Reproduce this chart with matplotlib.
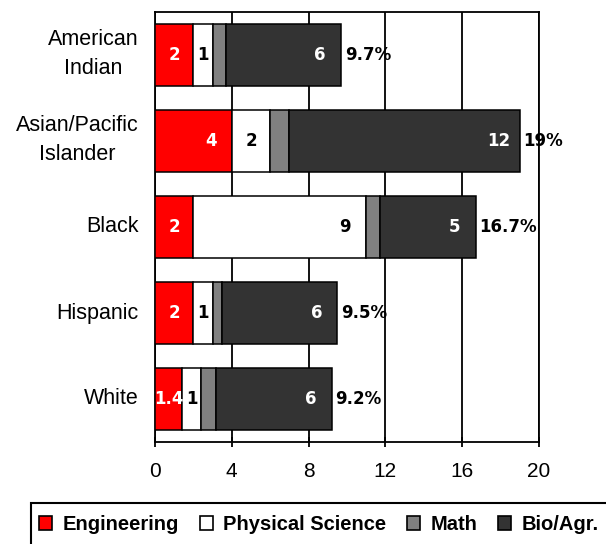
import matplotlib
matplotlib.use("Agg")
import matplotlib.pyplot as plt
from matplotlib.patches import Rectangle
from matplotlib.transforms import ScaledTranslation

groups = ["American\nIndian", "Asian/Pacific\nIslander", "Black", "Hispanic", "White"]
engineering = [2, 4, 2, 2, 1.4]
physical = [1, 2, 9, 1, 1]
math = [0.7, 1, 0.7, 0.5, 0.8]
bio = [6, 12, 5, 6, 6]
totals = ["9.7%", "19%", "16.7%", "9.5%", "9.2%"]

fields = ["Engineering", "Physical Science", "Math", "Bio/Agr."]
colors = ["#ff0000", "#ffffff", "#808080", "#333333"]
text_colors = ["white", "black", None, "white"]

fig = plt.figure(figsize=(6.06, 5.44), dpi=100)
ax = fig.add_axes([155 / 606, 102 / 544, 384 / 606, 430 / 544])

y = list(range(len(groups)))
left = [0.0] * len(groups)
for vals, col, tcol in zip([engineering, physical, math, bio], colors, text_colors):
    ax.barh(y, vals, left=left, height=0.72, color=col, edgecolor="black",
            linewidth=1.1, zorder=3)
    if tcol is not None:
        for i, v in enumerate(vals):
            end = left[i] + v
            # big segments get their number near the right end
            x = end - 1.1 if v >= 4 else left[i] + v / 2
            ax.text(x, i, f"{v:g}", ha="center", va="center", color=tcol,
                    fontsize=12, fontweight="bold", family="DejaVu Sans",
                    zorder=4)
    left = [l + v for l, v in zip(left, vals)]

for i, t in enumerate(totals):
    ax.text(left[i] + 0.2, i, t, ha="left", va="center", fontsize=12,
            fontweight="bold", family="DejaVu Sans", zorder=4)

ax.set_xlim(0, 20)
ax.set_ylim(4.5, -0.5)
ax.set_xticks([0, 4, 8, 12, 16, 20])
ax.set_yticks(y)
ax.set_yticklabels([])
ax.tick_params(axis="y", length=0)

# group names drawn by hand so they can sit a bit higher
ytrans = ax.get_yaxis_transform()
for i, g in enumerate(groups):
    up = 1 if "\n" in g else 0
    tr = ytrans + ScaledTranslation(-16 / 100, up / 100, fig.dpi_scale_trans)
    ax.text(0, i, g, transform=tr, ha="right", va="center", multialignment="center",
            linespacing=1.45, family="Liberation Sans", fontsize=15.5)

ax.tick_params(axis="x", direction="inout", length=6.5, width=1.3, pad=11,
               labelsize=15)
for lab in ax.get_xticklabels():
    lab.set_family("Liberation Sans")
ax.xaxis.grid(True, color="black", linewidth=1.3, zorder=0)
for s in ax.spines.values():
    s.set_linewidth(1.3)

handles = [Rectangle((0, 0), 1, 1, facecolor=c, edgecolor="black", linewidth=1.2)
           for c in colors]
fig.legend(handles, fields, loc="upper left", bbox_to_anchor=(39 / 606, 1 - 515 / 544),
           ncol=4, frameon=False, borderpad=0, borderaxespad=0,
           handlelength=0.65, handleheight=0.65, handletextpad=0.5,
           columnspacing=1.05,
           prop={"family": "Liberation Sans", "weight": "bold", "size": 14.5})
fig.patches.append(Rectangle((31 / 606, -0.1), 1.0, 0.1 + 41 / 544, fill=False,
                             edgecolor="black", linewidth=1.5,
                             transform=fig.transFigure, figure=fig))

fig.savefig("out.png", dpi=100)
